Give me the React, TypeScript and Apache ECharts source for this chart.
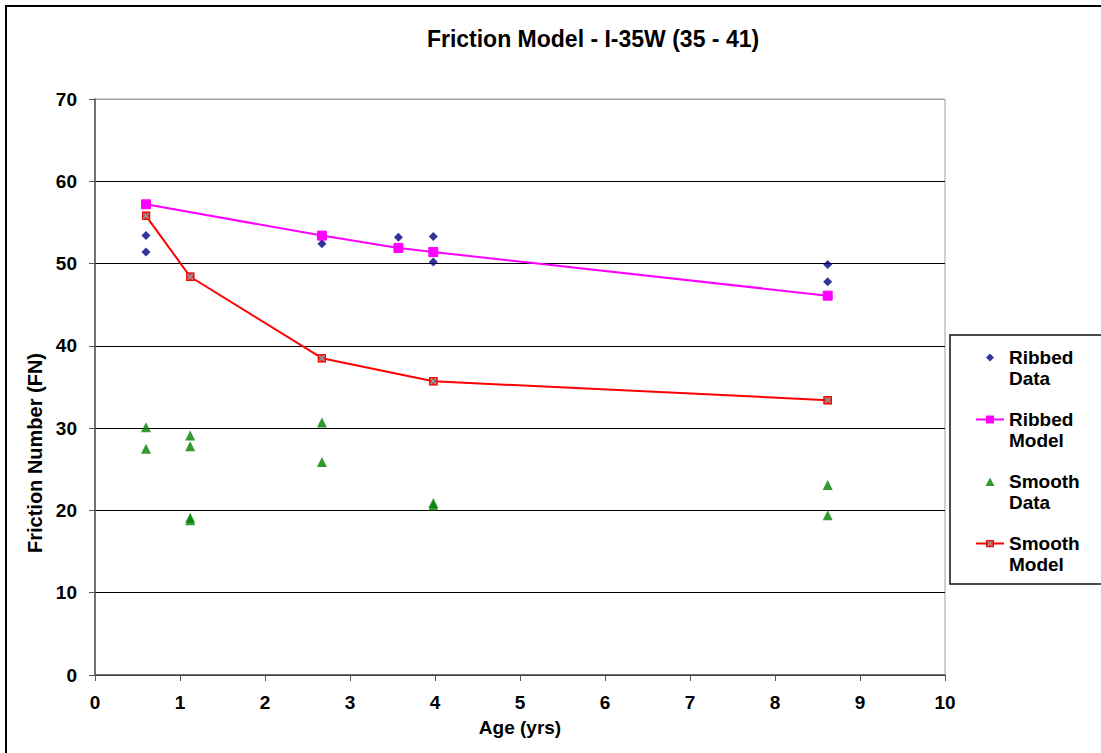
import React, { useEffect, useRef } from "react";
import * as echarts from "echarts";

const title = "Friction Model - I-35W (35 - 41)";
const xAxisName = "Age (yrs)";
const yAxisName = "Friction Number (FN)";

const ribbedDataAge = [0.6, 0.6, 2.67, 2.67, 3.57, 3.98, 3.98, 8.62, 8.62];
const ribbedDataFN = [53.4, 51.4, 53.2, 52.4, 53.2, 53.3, 50.2, 49.9, 47.8];

const ribbedModelAge = [0.6, 2.67, 3.57, 3.98, 8.62];
const ribbedModelFN = [57.2, 53.4, 51.9, 51.4, 46.1];

const smoothDataAge = [0.6, 0.6, 1.12, 1.12, 1.12, 1.12, 2.67, 2.67, 3.98, 3.98, 8.62, 8.62];
const smoothDataFN = [30.1, 27.5, 29.1, 27.8, 19.1, 18.8, 30.7, 25.9, 20.9, 20.6, 23.1, 19.4];

const smoothModelAge = [0.6, 1.12, 2.67, 3.98, 8.62];
const smoothModelFN = [55.8, 48.4, 38.5, 35.7, 33.4];

const seriesNames = ["Ribbed Data", "Ribbed Model", "Smooth Data", "Smooth Model"];
const legendLabels: Record<string, string> = {
  "Ribbed Data": "\nRibbed\nData",
  "Ribbed Model": "\nRibbed\nModel",
  "Smooth Data": "\nSmooth\nData",
  "Smooth Model": "\nSmooth\nModel",
};

const xMin = 0, xMax = 10, xInterval = 1;
const yMin = 0, yMax = 70, yInterval = 10;

const zip = (a: number[], b: number[]) => a.map((v, i) => [v, b[i]]);

// legend icons padded to the full 28x10 legend box so that they keep their shape
const BOUNDS = "M0,0 L0.01,0 Z M28,10 L27.99,10 Z ";
const legendDiamond = "path://" + BOUNDS + "M14,1 L18,5 L14,9 L10,5 Z";
const legendTriangle = "path://" + BOUNDS + "M14,1 L18.5,9.5 L9.5,9.5 Z";

const smoothMarkerSvg =
  "<svg xmlns='http://www.w3.org/2000/svg' width='10' height='10' viewBox='0 0 10 10'>" +
  "<rect x='0.6' y='0.6' width='8.8' height='8.8' fill='#ff2020' stroke='#e00000' stroke-width='1.2'/>" +
  "<path d='M2 2L8 8M8 2L2 8' stroke='#70b0b0' stroke-width='1.4'/></svg>";
const smoothMarker = "image://data:image/svg+xml;charset=utf-8," + encodeURIComponent(smoothMarkerSvg);

const FONT = "'Liberation Sans', Arial, sans-serif";

export default function App() {
  const ref = useRef<HTMLDivElement>(null);
  useEffect(() => {
    document.body.style.margin = "0";
    const chart = echarts.init(ref.current!, null, { renderer: "svg" });
    chart.setOption({
      animation: false,
      backgroundColor: "#ffffff",
      textStyle: { fontFamily: FONT },
      title: {
        text: title,
        left: 588,
        top: 22,
        textAlign: "center",
        textStyle: { fontFamily: FONT, fontSize: 23, fontWeight: "bold", color: "#000" },
      },
      graphic: [
        {
          type: "rect",
          shape: { x: 6, y: 6, width: 1200, height: 800 },
          style: { fill: "none", stroke: "#000", lineWidth: 2 },
          silent: true,
        },
        {
          type: "rect",
          shape: { x: 950, y: 335, width: 200, height: 249 },
          style: { fill: "#fff", stroke: "#111", lineWidth: 1.5 },
          silent: true,
          z: -1,
        },
      ],
      grid: {
        left: 95,
        top: 99,
        right: 156,
        bottom: 78,
        show: true,
        borderColor: "#a0a0a0",
        borderWidth: 1,
        backgroundColor: "transparent",
      },
      legend: {
        orient: "vertical",
        left: 975,
        top: 326,
        padding: 0,
        itemWidth: 28,
        itemHeight: 10,
        itemGap: -1,
        data: [
          { name: seriesNames[0], icon: legendDiamond },
          { name: seriesNames[1] },
          { name: seriesNames[2], icon: legendTriangle },
          { name: seriesNames[3] },
        ],
        formatter: (n: string) => legendLabels[n] || n,
        textStyle: {
          fontFamily: FONT,
          fontSize: 19,
          fontWeight: "bold",
          color: "#000",
          lineHeight: 21,
        },
      },
      xAxis: {
        type: "value",
        min: xMin,
        max: xMax,
        interval: xInterval,
        name: xAxisName,
        nameLocation: "middle",
        nameGap: 43,
        nameTextStyle: { fontFamily: FONT, fontSize: 19, fontWeight: "bold", color: "#000" },
        axisLine: { show: true, lineStyle: { color: "#555", width: 1.5 } },
        axisTick: { show: true, length: 6, lineStyle: { color: "#555", width: 1 } },
        axisLabel: { margin: 18, fontFamily: FONT, fontSize: 19, fontWeight: "bold", color: "#000" },
        splitLine: { show: false },
      },
      yAxis: {
        type: "value",
        min: yMin,
        max: yMax,
        interval: yInterval,
        name: yAxisName,
        nameLocation: "middle",
        nameGap: 48,
        nameTextStyle: {
          fontFamily: FONT,
          fontSize: 20,
          fontWeight: "bold",
          color: "#000",
          padding: [0, 132, 0, 0],
        },
        axisLine: { show: true, lineStyle: { color: "#555", width: 1.5 } },
        axisTick: { show: true, length: 6, lineStyle: { color: "#555", width: 1 } },
        axisLabel: { margin: 18, fontFamily: FONT, fontSize: 19, fontWeight: "bold", color: "#000" },
        splitLine: {
          show: true,
          lineStyle: {
            color: ["#000", "#000", "#000", "#000", "#000", "#000", "#000", "#a0a0a0"],
            width: 1,
          },
        },
      },
      series: [
        {
          name: "Ribbed Data",
          type: "scatter",
          data: zip(ribbedDataAge, ribbedDataFN),
          symbol: "diamond",
          symbolSize: 9,
          symbolKeepAspect: true,
          itemStyle: { color: "#000080" },
          z: 3,
        },
        {
          name: "Ribbed Model",
          type: "line",
          data: zip(ribbedModelAge, ribbedModelFN),
          symbol: "rect",
          symbolSize: 9,
          showAllSymbol: true,
          lineStyle: { color: "#ff00ff", width: 2 },
          itemStyle: { color: "#ff00ff", borderColor: "#ff00ff" },
          z: 4,
        },
        {
          name: "Smooth Data",
          type: "scatter",
          data: zip(smoothDataAge, smoothDataFN),
          symbol: "triangle",
          symbolSize: 10,
          symbolKeepAspect: true,
          itemStyle: { color: "#008000" },
          z: 3,
        },
        {
          name: "Smooth Model",
          type: "line",
          data: zip(smoothModelAge, smoothModelFN),
          symbol: smoothMarker,
          symbolSize: 9,
          showAllSymbol: true,
          lineStyle: { color: "#ff0000", width: 2 },
          itemStyle: { color: "#ff0000" },
          z: 4,
        },
      ],
    });
    return () => chart.dispose();
  }, []);
  return <div ref={ref} style={{ width: 1101, height: 753 }} />;
}
